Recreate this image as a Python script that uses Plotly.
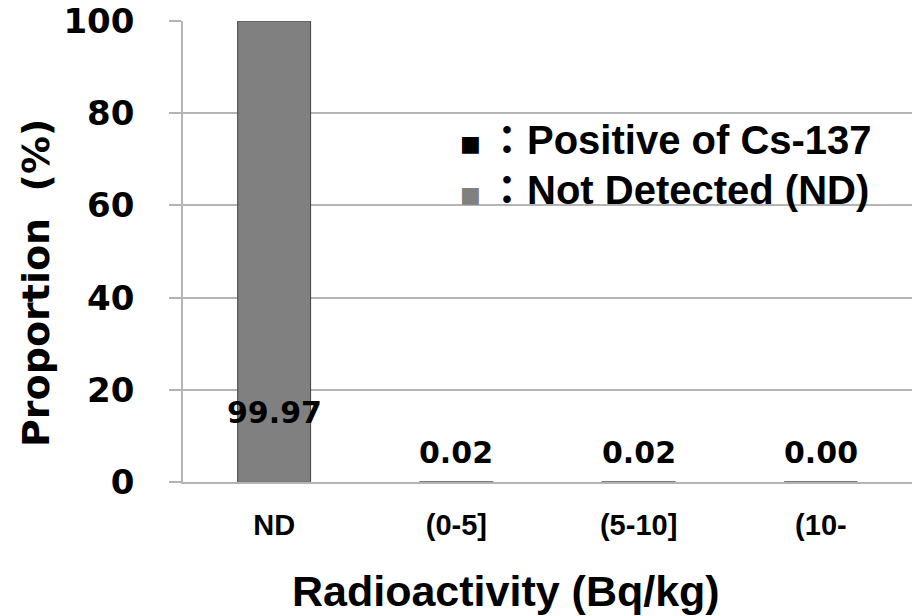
import plotly.graph_objects as go

categories = ["ND", "(0-5]", "(5-10]", "(10-"]
not_detected = [99.97, 0, 0, 0]
positive_cs137 = [0, 0.02, 0.02, 0.00]
label_values = [99.97, 0.02, 0.02, 0.00]
y_ticks = [0, 20, 40, 60, 80, 100]

BOLD = "DejaVu Sans, Verdana, sans-serif"
ARIAL = "Liberation Sans, Arial, sans-serif"

FW, FH = 912, 616
L, T, W, H = 183, 21, 729, 461


def px(xp):
    return (xp - L) / W


def py(yp):
    return 1 - (yp - T) / H


fig = go.Figure()
fig.add_bar(x=categories, y=not_detected, name="Not Detected (ND)",
            marker=dict(color="#808080", line=dict(color="#404040", width=1)),
            width=0.4, showlegend=False)
fig.add_bar(x=categories, y=positive_cs137, name="Positive of Cs-137",
            marker=dict(color="#000000", line=dict(color="#808080", width=1.5)),
            width=0.4, showlegend=False)

# data labels
label_y = [15, 6.5, 6.5, 6.5]
for c, v, ly in zip(categories, label_values, label_y):
    fig.add_annotation(x=c, y=ly, text=f"{v:.2f}", showarrow=False,
                       font=dict(family=BOLD, size=30, color="#000", weight="bold"),
                       xanchor="center", yanchor="middle")

# legend (text)
leg_items = [("#000000", "Positive of Cs-137", 140), ("#808080", "Not Detected (ND)", 190)]
for col, txt, ypx in leg_items:
    fig.add_annotation(x=px(470), y=py(ypx + 4), xref="paper", yref="paper",
                       text="■", showarrow=False, xanchor="center", yanchor="middle",
                       font=dict(family="DejaVu Sans", size=22, color=col))
    fig.add_annotation(x=px(485), y=py(ypx), xref="paper", yref="paper",
                       text=f"：{txt}", showarrow=False, xanchor="left", yanchor="middle",
                       font=dict(family=ARIAL + ", Noto Sans CJK JP", size=40,
                                 color="#000", weight="bold"))

# y-axis title
fig.add_annotation(x=px(36), y=py(283), xref="paper", yref="paper",
                   text="Proportion\u00a0\u00a0(%)", textangle=-90, showarrow=False,
                   xanchor="center", yanchor="middle",
                   font=dict(family=BOLD, size=38, color="#000", weight="bold"))

# x-axis title
fig.add_annotation(x=px(506), y=py(591), xref="paper", yref="paper",
                   text="Radioactivity (Bq/kg)", showarrow=False,
                   xanchor="center", yanchor="middle",
                   font=dict(family=ARIAL, size=43, color="#000", weight="bold"))

fig.update_layout(
    width=FW, height=FH,
    margin=dict(l=L, r=FW - L - W, t=T, b=FH - T - H),
    plot_bgcolor="white", paper_bgcolor="white",
    barmode="overlay",
    xaxis=dict(
        type="category", showgrid=False, automargin=False,
        showline=True, linecolor="#b4b4b4", linewidth=1.5,
        tickfont=dict(family=ARIAL, size=29, color="#000", weight="bold"),
        ticks="", ticklabelstandoff=16,
    ),
    yaxis=dict(
        range=[0, 100], tickvals=y_ticks, automargin=False,
        showgrid=True, gridcolor="#b4b4b4", gridwidth=1.5,
        showline=True, linecolor="#b4b4b4", linewidth=1.5,
        ticks="outside", ticklen=12, tickcolor="#b4b4b4", tickwidth=1.5,
        tickfont=dict(family=BOLD, size=34, color="#000", weight="bold"),
        ticklabelstandoff=28, zeroline=False,
    ),
)

fig.write_html("out.html", config={"displayModeBar": False},
               post_script="document.body.style.margin='0px';")
